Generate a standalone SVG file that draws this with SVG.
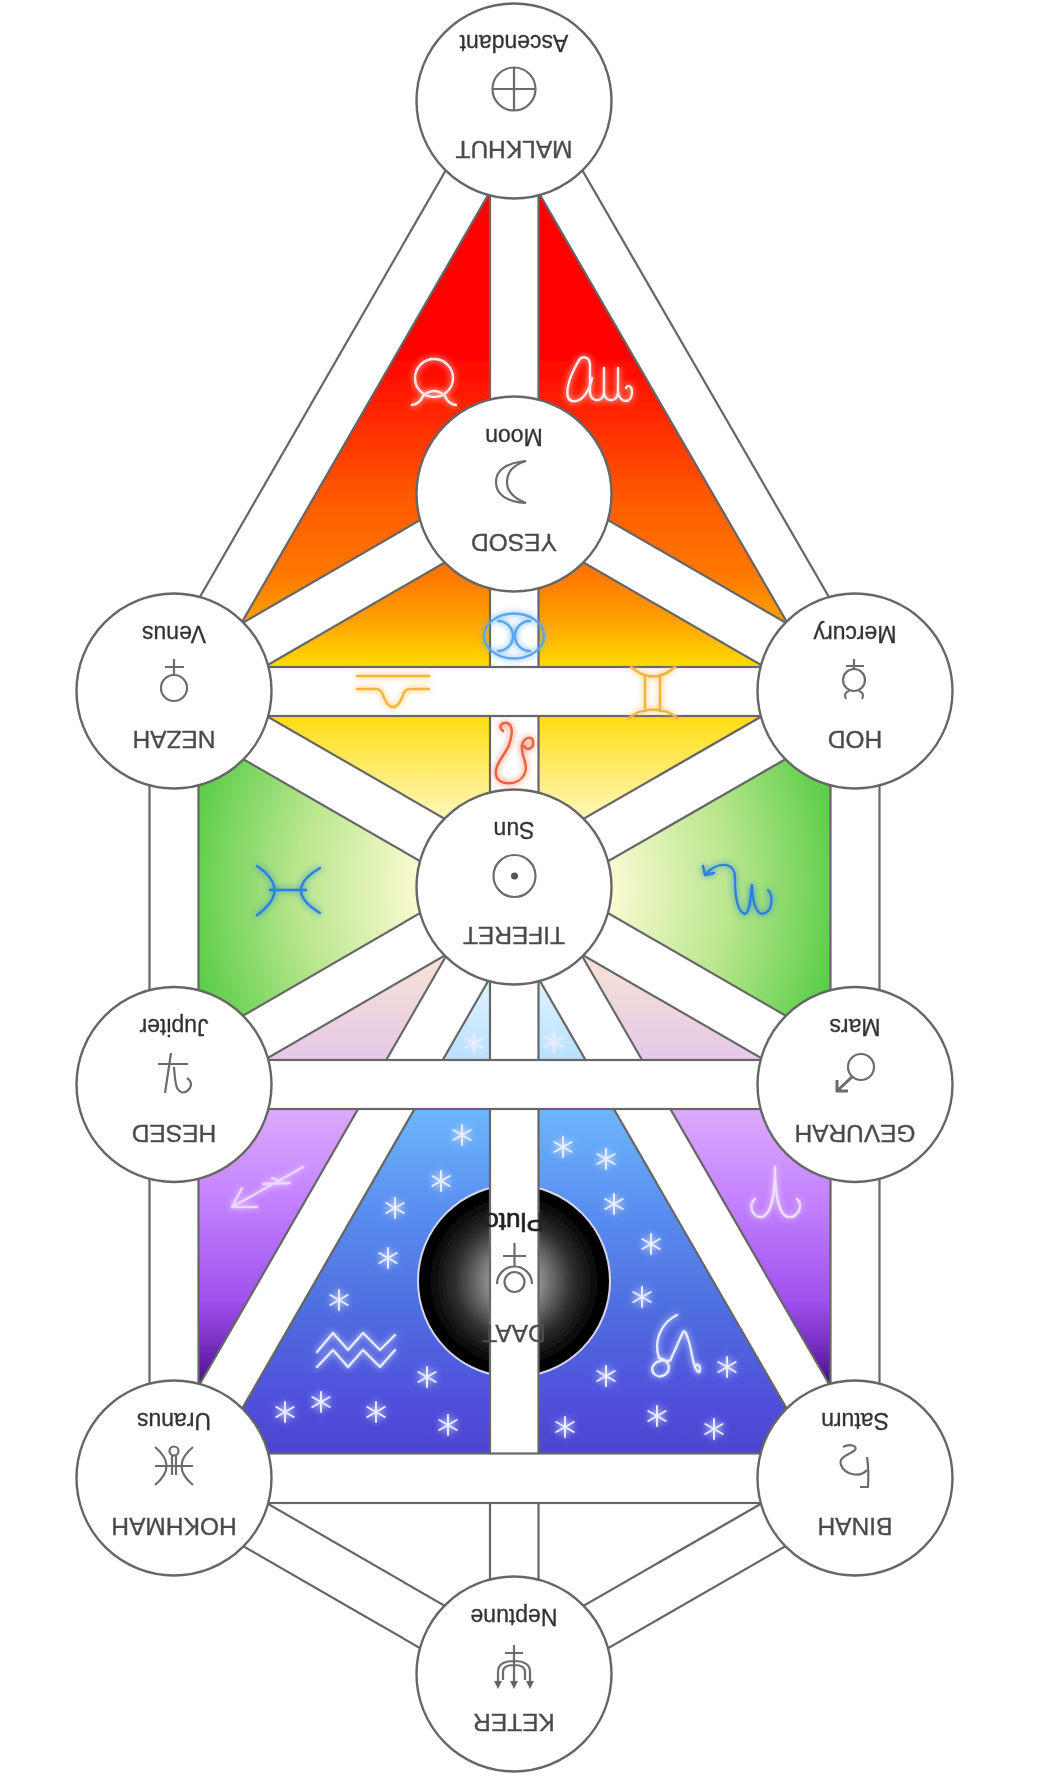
<svg xmlns="http://www.w3.org/2000/svg" width="1051" height="1782" viewBox="0 0 1051 1782">
<style>
.bar{fill:#fff;stroke:#666;stroke-width:2.200;stroke-linejoin:miter}
.sph{fill:#fff;stroke:#666;stroke-width:2.400}
.name{font:24.500px "Liberation Sans",Arial,sans-serif;fill:#4a4a4a;stroke:#555;stroke-width:.4;text-anchor:middle}
.pl{font:23px "Liberation Sans",Arial,sans-serif;fill:#333;stroke:#333;stroke-width:.3;text-anchor:middle}
.sym{fill:none;stroke:#6c6c6c;stroke-width:2.200}
.z{fill:none;stroke-width:2.400;stroke-linecap:round;stroke-linejoin:round}
.w{stroke:#fbe9e9}
.star{fill:none;stroke:#e8eeff;stroke-width:2;stroke-linecap:round}
</style>
<defs>
<filter id="soft" filterUnits="userSpaceOnUse" x="0" y="0" width="1051" height="1782"><feGaussianBlur stdDeviation="0.7"/></filter>
<filter id="glow" filterUnits="userSpaceOnUse" x="0" y="0" width="1051" height="1782"><feGaussianBlur in="SourceGraphic" stdDeviation="3" result="b"/><feMerge><feMergeNode in="b"/><feMergeNode in="SourceGraphic"/></feMerge></filter>
<linearGradient id="gFire" gradientUnits="userSpaceOnUse" x1="0" y1="350" x2="0" y2="667"><stop offset="0" stop-color="#ff0000"/><stop offset="0.47" stop-color="#ff5a00"/><stop offset="0.71" stop-color="#ff7800"/><stop offset="0.85" stop-color="#ffa000"/><stop offset="1" stop-color="#ffdd05"/></linearGradient>
<linearGradient id="gYel" gradientUnits="userSpaceOnUse" x1="0" y1="716" x2="0" y2="835"><stop offset="0" stop-color="#ffdd11"/><stop offset="1" stop-color="#fffcd8"/></linearGradient>
<radialGradient id="gGreen" gradientUnits="userSpaceOnUse" cx="514" cy="887" r="335"><stop offset="0.28" stop-color="#fbfbd2"/><stop offset="0.65" stop-color="#b8e68c"/><stop offset="1" stop-color="#55cc44"/></radialGradient>
<linearGradient id="gPurp" gradientUnits="userSpaceOnUse" x1="0" y1="955" x2="0" y2="1385"><stop offset="0" stop-color="#f6e4d4"/><stop offset="0.24" stop-color="#e6c8e8"/><stop offset="0.36" stop-color="#dcaafb"/><stop offset="0.56" stop-color="#c484ff"/><stop offset="0.8" stop-color="#a052ee"/><stop offset="0.9" stop-color="#7a30c4"/><stop offset="1" stop-color="#471088"/></linearGradient>
<linearGradient id="gBlue" gradientUnits="userSpaceOnUse" x1="0" y1="985" x2="0" y2="1453"><stop offset="0" stop-color="#dcf2ff"/><stop offset="0.16" stop-color="#b8e0ff"/><stop offset="0.27" stop-color="#6cb6fb"/><stop offset="0.47" stop-color="#5a90f0"/><stop offset="0.68" stop-color="#5070e0"/><stop offset="0.89" stop-color="#5050dc"/><stop offset="1" stop-color="#4c44cf"/></linearGradient>
<radialGradient id="gDaat" gradientUnits="userSpaceOnUse" cx="514" cy="1281" r="97"><stop offset="0" stop-color="#b0b0b0"/><stop offset="0.27" stop-color="#8c8c8c"/><stop offset="0.6" stop-color="#303030"/><stop offset="0.85" stop-color="#070707"/><stop offset="1" stop-color="#000"/></radialGradient>
<path id="s" d="M0,-10V10M-8.7,-5L8.7,5M-8.7,5L8.7,-5"/>
</defs>
<rect width="1051" height="1782" fill="#fff"/>
<g filter="url(#soft)">
<g id="fields">
<polygon points="514,101 174,691 855,691" fill="url(#gFire)"/>
<polygon points="174,691 514,887 855,691" fill="url(#gYel)"/>
<polygon points="174,691 514,887 174,1084" fill="url(#gGreen)"/>
<polygon points="855,691 514,887 855,1084" fill="url(#gGreen)"/>
<polygon points="514,887 174,1084 174,1478" fill="url(#gPurp)"/>
<polygon points="514,887 855,1084 855,1478" fill="url(#gPurp)"/>
<polygon points="514,887 174,1478 855,1478" fill="url(#gBlue)"/>
</g>
<g id="stars" class="star" filter="url(#glow)">
<use href="#s" x="462" y="1135"/><use href="#s" x="441" y="1181"/><use href="#s" x="395" y="1208"/><use href="#s" x="388" y="1258"/><use href="#s" x="339" y="1300"/><use href="#s" x="427" y="1377"/><use href="#s" x="285" y="1412"/><use href="#s" x="321" y="1402"/><use href="#s" x="376" y="1412"/><use href="#s" x="448" y="1425"/>
<use href="#s" x="563" y="1147"/><use href="#s" x="606" y="1159"/><use href="#s" x="614" y="1204"/><use href="#s" x="651" y="1244"/><use href="#s" x="642" y="1297"/><use href="#s" x="606" y="1376"/><use href="#s" x="727" y="1367"/><use href="#s" x="657" y="1416"/><use href="#s" x="714" y="1429"/><use href="#s" x="565" y="1427"/>
<use href="#s" x="554" y="1042"/><use href="#s" x="474" y="1043"/>
</g>
<g id="daat"><circle cx="514" cy="1281" r="96" fill="url(#gDaat)" stroke="#d4d8ea" stroke-width="2"/></g>
<g id="connectors">
<rect class="bar" x="490" y="101" width="48.500" height="393"/>
<rect class="bar" x="490" y="494" width="48.500" height="393"/>
<rect class="bar" x="490" y="887" width="48.500" height="787"/>
<rect class="bar" x="149.500" y="691" width="49" height="393"/>
<rect class="bar" x="149.500" y="1084" width="49" height="394"/>
<rect class="bar" x="830.500" y="691" width="49" height="393"/>
<rect class="bar" x="830.500" y="1084" width="49" height="394"/>
<polygon class="bar" points="535.2,113.25 195.2,703.25 152.8,678.75 492.8,88.75"/>
<polygon class="bar" points="492.8,113.25 833.8,703.25 876.2,678.75 535.2,88.75"/>
<polygon class="bar" points="526.25,515.2 186.25,712.2 161.75,669.8 501.75,472.8"/>
<polygon class="bar" points="501.75,515.2 842.75,712.2 867.25,669.8 526.25,472.8"/>
<polygon class="bar" points="526.25,865.8 186.25,669.8 161.75,712.2 501.75,908.2"/>
<polygon class="bar" points="501.75,865.8 842.75,669.8 867.25,712.2 526.25,908.2"/>
<polygon class="bar" points="526.25,908.2 186.25,1105.2 161.75,1062.8 501.75,865.8"/>
<polygon class="bar" points="501.75,908.2 842.75,1105.2 867.25,1062.8 526.25,865.8"/>
<polygon class="bar" points="535.2,899.25 195.2,1490.25 152.8,1465.75 492.8,874.75"/>
<polygon class="bar" points="492.8,899.25 833.8,1490.25 876.2,1465.75 535.2,874.75"/>
<polygon class="bar" points="526.25,1652.8 186.25,1456.8 161.75,1499.2 501.75,1695.2"/>
<polygon class="bar" points="501.75,1652.8 842.75,1456.8 867.25,1499.2 526.25,1695.2"/>
<rect class="bar" x="174" y="667" width="681" height="49"/>
<rect class="bar" x="174" y="1060" width="681" height="49"/>
<rect class="bar" x="174" y="1453.500" width="681" height="49.500"/>
</g>
<g id="zodiac" filter="url(#glow)">
<g class="z w"><circle cx="434" cy="378" r="19"/><path d="M412,405Q420,404 423,396Q434,386 445,396Q448,404 456,405"/></g>
<path class="z w" d="M618,368V392C618,403 604,403 604,392V368M604,392C604,403 590,403 590,392V365C590,357 582,354 578,362C570,375 562,398 572,401C582,403 590,390 592,378M618,392C620,404 632,404 632,392C632,386 628,384 626,388"/>
<g class="z" stroke="#5aa6ee"><ellipse cx="514" cy="636" rx="30" ry="22.500"/><path d="M498,621A15,15 0 0 1 498,651M530,621A15,15 0 0 0 530,651"/></g>
<path class="z" stroke="#f4b638" d="M357,676H429M357,689H376Q381,689 383,695Q387,707 393,707Q399,707 403,695Q405,689 410,689H429"/>
<path class="z" stroke="#f0b238" d="M631,667Q640,674 645,675Q653,678 661,675Q667,674 675,667M645,675V711M660,675V711M629,718Q640,710 645,711Q653,708 661,711Q667,710 677,718"/>
<path class="z" stroke="#e8623c" d="M503,731C498,727 501,722 507,723C514,725 512,736 509,745C505,755 494,765 496,775C498,786 518,786 524,775C530,765 520,755 522,745C524,737 533,735 533,742C534,749 526,751 524,746"/>
<path class="z" stroke="#2a80dc" d="M257,866Q292,890 257,915M320,868Q282,890 320,913M270,890H306"/>
<path class="z" stroke="#2e80e0" d="M703,866L705,875L714,873M705,875C715,862 735,860 735,878C735,895 737,912 745,914C752,910 750,890 752,885C752,895 754,912 762,914C774,912 773,895 768,890"/>
<path class="z" stroke="#ecd6ff" d="M303,1167L232,1207M242,1188L232,1207L257,1207M263,1184L290,1183M272,1178L286,1184"/>
<path class="z" stroke="#efdcff" d="M775,1167C775,1190 772,1215 762,1217C752,1218 748,1205 755,1199M775,1167C775,1190 778,1215 788,1217C798,1218 804,1205 797,1199"/>
<path class="z" stroke="#e6ecff" d="M317,1352L333,1333L348,1350L363,1333L380,1350L395,1335M317,1367L333,1350L348,1367L363,1350L380,1367L395,1350"/>
<path class="z" stroke="#e6ecff" d="M677,1315C662,1322 653,1340 659,1358C668,1360 672,1368 666,1374C658,1380 650,1373 653,1366C656,1360 664,1360 670,1361L683,1332C686,1328 690,1345 692,1355C695,1372 700,1376 700,1369C700,1364 696,1363 695,1367"/>
</g>
<g id="malkhut"><circle class="sph" cx="514" cy="101" r="97.500"/><path class="sym" d="M514,67V111M492.500,89H535.500"/><circle class="sym" cx="514" cy="89" r="21.500"/><g transform="rotate(180 514 101)"><text class="name" x="514" y="61">MALKHUT</text><text class="pl" x="514" y="167">Ascendant</text></g></g>
<g id="yesod"><circle class="sph" cx="514" cy="494" r="97.500"/><path class="sym" d="M526,461C506,463 496,470 496,482C496,494 506,502 526,503C513,498 507,491 507,482C507,472 513,465 526,461Z"/><g transform="rotate(180 514 494)"><text class="name" x="514" y="454">YESOD</text><text class="pl" x="514" y="559">Moon</text></g></g>
<g id="nezah"><circle class="sph" cx="174" cy="691" r="97.500"/><circle class="sym" cx="174" cy="688" r="13"/><path class="sym" d="M174,659V675M165,667H184"/><g transform="rotate(180 174 691)"><text class="name" x="174" y="651">NEZAH</text><text class="pl" x="174" y="756">Venus</text></g></g>
<g id="hod"><circle class="sph" cx="855" cy="691" r="97.500"/><circle class="sym" cx="854" cy="680" r="11"/><path class="sym" d="M854,659V669M846,666H864M846,699Q843,693 849,691M862,699Q865,693 859,691"/><g transform="rotate(180 855 691)"><text class="name" x="855" y="651">HOD</text><text class="pl" x="855" y="756">Mercury</text></g></g>
<g id="tiferet"><circle class="sph" cx="514" cy="887" r="97.500"/><circle class="sym" cx="514.500" cy="876" r="21"/><circle cx="514.500" cy="876" r="3.500" fill="#555"/><g transform="rotate(180 514 887)"><text class="name" x="514" y="847">TIFERET</text><text class="pl" x="514" y="952">Sun</text></g></g>
<g id="hesed"><circle class="sph" cx="174" cy="1084.500" r="97.500"/><path class="sym" d="M171,1053L165,1093M158,1064H188M174,1067Q175,1082 177,1088Q183,1097 190,1088Q193,1082 187,1078"/><g transform="rotate(180 174 1084.500)"><text class="name" x="174" y="1044">HESED</text><text class="pl" x="174" y="1150">Jupiter</text></g></g>
<g id="gevurah"><circle class="sph" cx="855" cy="1084.500" r="97.500"/><circle class="sym" cx="861" cy="1067" r="13"/><path class="sym" style="stroke-width:3" d="M853,1076L837,1091M837,1080V1091H848"/><g transform="rotate(180 855 1084.500)"><text class="name" x="855" y="1044">GEVURAH</text><text class="pl" x="855" y="1150">Mars</text></g></g>
<g id="daat-label"><circle class="sym" cx="514.500" cy="1282" r="10"/><path class="sym" d="M514.500,1243V1267M503,1256H526M497,1284A17.500,17.500 0 0 1 532,1284"/><g transform="rotate(180 514 1281)"><text class="name" x="514" y="1237">DAAT</text><text class="pl" x="514" y="1349" style="font-size:26px;stroke-width:.7;fill:#222;stroke:#222">Pluto</text></g></g>
<g id="hokhmah"><circle class="sph" cx="174" cy="1478" r="97.500"/><circle class="sym" cx="174" cy="1451" r="4.500"/><path class="sym" d="M155,1447Q178,1466 155,1485M193,1447Q170,1466 193,1485M155,1466H193M172,1456V1475M176,1456V1475"/><g transform="rotate(180 174 1478)"><text class="name" x="174" y="1438">HOKHMAH</text><text class="pl" x="174" y="1543">Uranus</text></g></g>
<g id="binah"><circle class="sph" cx="855" cy="1478" r="97.500"/><path class="sym" d="M867,1457Q869,1470 868,1487H860M867,1470C860,1478 845,1475 841,1465C838,1456 850,1455 855,1450C858,1446 850,1443 843,1447"/><g transform="rotate(180 855 1478)"><text class="name" x="855" y="1438">BINAH</text><text class="pl" x="855" y="1543">Saturn</text></g></g>
<g id="keter"><circle class="sph" cx="514" cy="1674" r="97.500"/><path class="sym" d="M514,1645V1684M505,1653H523M498,1684V1672Q498,1661 514,1661Q530,1661 530,1672V1684M503,1680V1672Q503,1665 514,1665Q525,1665 525,1672V1680"/><path fill="#666" d="M494,1681H502L498,1689ZM510,1681H518L514,1689ZM526,1681H534L530,1689Z"/><g transform="rotate(180 514 1674)"><text class="name" x="514" y="1634">KETER</text><text class="pl" x="514" y="1739">Neptune</text></g></g>
</g>
</svg>
